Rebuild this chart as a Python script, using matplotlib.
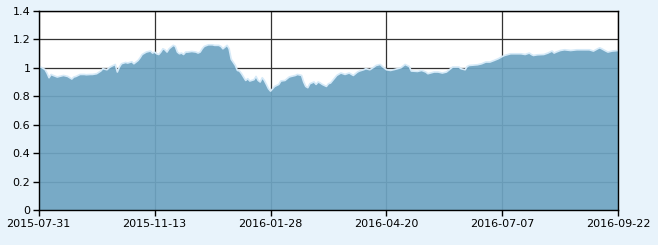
import numpy as np
import matplotlib
matplotlib.use("Agg")
import matplotlib.pyplot as plt

days = [0, 1, 3, 4, 5, 6, 7, 9, 10, 12, 14, 15, 16, 17, 18, 20, 22, 23, 25, 26,
        28, 30, 31, 33, 34, 35, 37, 38, 39, 40, 42, 43, 45, 46, 48, 49, 50, 52, 54, 55,
        56, 57, 58, 59, 60, 61, 62, 63, 64, 65, 66, 67, 68, 69, 70, 71, 72, 74, 76, 77,
        78, 79, 80, 82, 84, 85, 87, 88, 89, 90, 91, 92, 93, 95, 96, 97, 98, 99, 100, 101,
        102, 104, 105, 106, 107, 108, 109, 110, 111, 112, 113, 114, 116, 117, 119, 121, 122, 124, 125, 127,
        128, 129, 130, 131, 133, 134, 135, 136, 137, 139, 140, 141, 142, 144, 146, 148, 150, 152, 154, 155,
        157, 158, 160, 162, 163, 165, 166, 168, 170, 172, 175, 177, 179, 180, 183, 185, 187, 188, 191, 193,
        195, 197, 199, 200, 203, 204, 206, 207, 208, 212, 214, 216, 218, 220, 222, 224, 225, 228, 230, 233,
        235, 237, 238, 239, 241, 244, 246, 248, 249, 250, 252, 254, 257, 260, 263, 266, 268, 270, 271, 272,
        274, 275, 277, 280]
values = [1.005, 1.005, 0.988, 0.963, 0.930, 0.953, 0.946, 0.935, 0.939, 0.946,
          0.939, 0.930, 0.921, 0.935, 0.939, 0.953, 0.953, 0.951, 0.953, 0.953,
          0.958, 0.977, 0.993, 0.986, 1.000, 1.009, 1.023, 0.970, 1.005, 1.028,
          1.037, 1.033, 1.042, 1.028, 1.051, 1.070, 1.093, 1.110, 1.117, 1.103,
          1.110, 1.098, 1.093, 1.110, 1.133, 1.126, 1.110, 1.133, 1.145, 1.157,
          1.150, 1.110, 1.098, 1.103, 1.093, 1.110, 1.110, 1.114, 1.110, 1.103,
          1.110, 1.133, 1.150, 1.161, 1.161, 1.157, 1.157, 1.150, 1.133, 1.145,
          1.157, 1.133, 1.060, 1.016, 0.981, 0.977, 0.958, 0.935, 0.911, 0.923,
          0.907, 0.916, 0.939, 0.911, 0.900, 0.930, 0.911, 0.883, 0.853, 0.836,
          0.853, 0.869, 0.883, 0.907, 0.911, 0.935, 0.939, 0.946, 0.953, 0.946,
          0.900, 0.869, 0.860, 0.888, 0.900, 0.883, 0.900, 0.893, 0.883, 0.869,
          0.888, 0.893, 0.911, 0.946, 0.963, 0.953, 0.963, 0.946, 0.970, 0.977,
          0.986, 0.993, 0.986, 1.005, 1.016, 1.023, 1.009, 0.986, 0.981, 0.988,
          1.000, 1.023, 1.009, 0.977, 0.974, 0.981, 0.970, 0.958, 0.970, 0.970,
          0.963, 0.970, 0.993, 1.005, 1.005, 0.993, 0.986, 1.009, 1.016, 1.021,
          1.028, 1.040, 1.040, 1.051, 1.063, 1.079, 1.086, 1.098, 1.098, 1.098,
          1.093, 1.103, 1.093, 1.086, 1.091, 1.093, 1.103, 1.117, 1.103, 1.110,
          1.121, 1.126, 1.121, 1.126, 1.126, 1.126, 1.117, 1.133, 1.140, 1.133,
          1.117, 1.110, 1.117, 1.121]
tick_days = [0, 56, 112, 168, 224, 280]
tick_labels = ["2015-07-31", "2015-11-13", "2016-01-28", "2016-04-20", "2016-07-07", "2016-09-22"]
y_ticks = [0, 0.2, 0.4, 0.6, 0.8, 1, 1.2, 1.4]
y_labels = ["0", "0.2", "0.4", "0.6", "0.8", "1", "1.2", "1.4"]

bg = "#e8f3fb"
fig = plt.figure(figsize=(6.58, 2.45), dpi=100, facecolor=bg)
ax = fig.add_axes([0.0588, 0.1416, 0.8809, 0.8147])
ax.set_facecolor("white")

ax.grid(True, color="#333333", linewidth=0.9)
ax.set_axisbelow(True)
ax.fill_between(days, values, 0, facecolor=(110/255, 164/255, 194/255), alpha=0.93,
                edgecolor="none", zorder=2)
ax.plot(days, values, color="#d6eaf8", linewidth=1.2, zorder=3)

ax.set_xlim(0, 280)
ax.set_ylim(0, 1.4)
ax.set_xticks(tick_days)
ax.set_xticklabels(tick_labels)
ax.set_yticks(y_ticks)
ax.set_yticklabels(y_labels)
ax.tick_params(direction="out", length=4, width=1, labelsize=8, colors="black", pad=2)
for s in ax.spines.values():
    s.set_color("black")
    s.set_linewidth(1)
    s.set_zorder(4)

fig.savefig("out.png", dpi=100, facecolor=bg)
